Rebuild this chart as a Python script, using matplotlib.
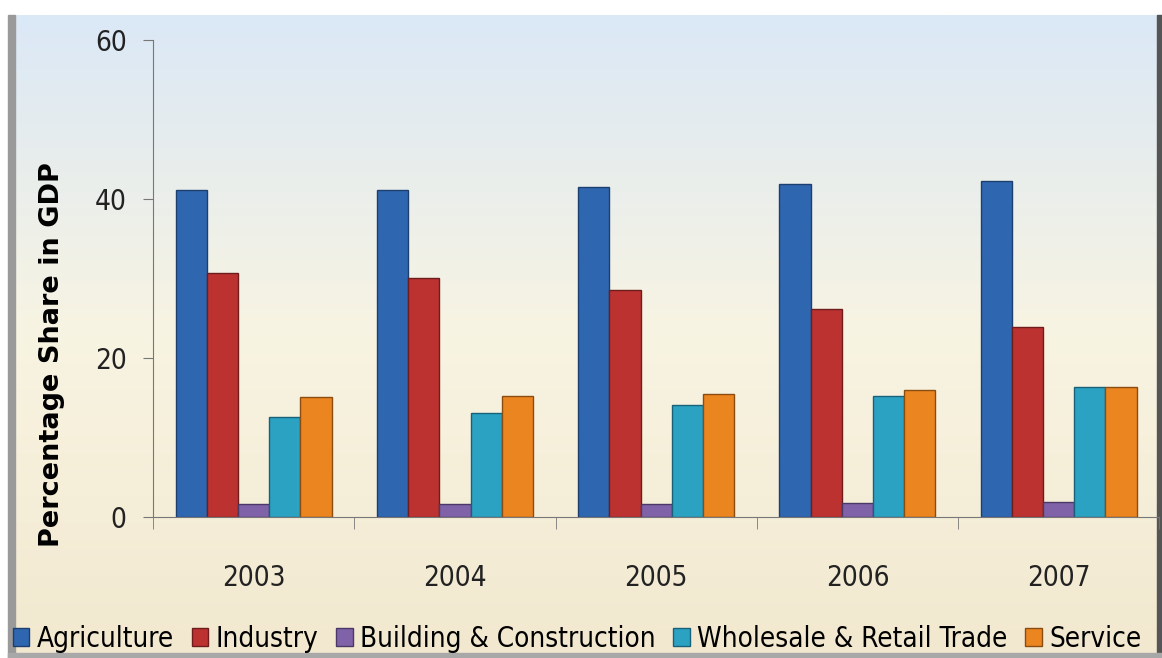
import numpy as np
import matplotlib
matplotlib.use("Agg")
import matplotlib.pyplot as plt
from matplotlib.patches import Rectangle
from matplotlib.colors import LinearSegmentedColormap
from matplotlib import font_manager

years = ["2003", "2004", "2005", "2006", "2007"]
sectors = ["Agriculture", "Industry", "Building & Construction",
           "Wholesale & Retail Trade", "Service"]
agriculture = [41.2, 41.2, 41.5, 41.9, 42.3]
industry = [30.7, 30.1, 28.6, 26.2, 23.9]
building = [1.6, 1.6, 1.6, 1.8, 1.9]
wholesale = [12.6, 13.1, 14.1, 15.2, 16.4]
service = [15.1, 15.2, 15.5, 16.0, 16.4]

values = [agriculture, industry, building, wholesale, service]
colors = ["#2f66b0", "#bb3230", "#8062a8", "#2ba2c2", "#ea851f"]
edges = ["#1d3f70", "#6e1d1c", "#4a3866", "#17617a", "#8a4c10"]

names = set(f.name for f in font_manager.fontManager.ttflist)
narrow = "Liberation Sans Narrow" if "Liberation Sans Narrow" in names else "DejaVu Sans"
stretch = "normal" if narrow == "Liberation Sans Narrow" else "condensed"

fig = plt.figure(figsize=(11.62, 6.58), dpi=100)

# background panel with gradient
bg = fig.add_axes([0, 0, 1, 1], zorder=-10)
bg.set_xlim(0, 1)
bg.set_ylim(0, 1)
bg.axis("off")
cmap = LinearSegmentedColormap.from_list("bg", ["#dbe8f6", "#f8f4e2", "#f2e8cf"])
grad = np.linspace(0, 1, 256).reshape(-1, 1)
bg.imshow(grad, extent=[0.007, 0.999, 0.0, 0.977], aspect="auto", cmap=cmap,
          origin="upper")
bg.add_patch(Rectangle((0.007, 0.0), 0.006, 0.977, color="#9a9a9a"))
bg.add_patch(Rectangle((0.996, 0.0), 0.004, 0.977, color="#555555"))
bg.add_patch(Rectangle((0.007, 0.0), 0.993, 0.008, color="#a8a8a8"))

ax = fig.add_axes([0.1317, 0.2143, 0.866, 0.7247])
ax.patch.set_alpha(0)

x = np.arange(len(years))
w = 0.155
for i, (name, vals) in enumerate(zip(sectors, values)):
    ax.bar(x + (i - 2) * w, vals, w, color=colors[i], edgecolor=edges[i],
           linewidth=1.0, label=name)

ax.set_ylim(0, 60)
ax.set_xlim(-0.5, len(years) - 0.5)
ax.set_yticks([0, 20, 40, 60])
ax.set_xticks(x)
ax.set_xticklabels(years)
ax.set_xticks(np.arange(-0.5, len(years)), minor=True)
ax.tick_params(axis="x", which="major", length=0, pad=34)
ax.tick_params(axis="x", which="minor", length=8.5, color="#777777")
ax.tick_params(axis="y", length=7, color="#777777", pad=12)
for lab in ax.get_xticklabels() + ax.get_yticklabels():
    lab.set_fontfamily(narrow)
    lab.set_fontstretch(stretch)
    lab.set_fontsize(20)
    lab.set_color("#222222")

for s in ["top", "right"]:
    ax.spines[s].set_visible(False)
ax.spines["left"].set_color("#777777")
ax.spines["bottom"].set_color("#777777")

fig.text(52 / 1162, 1 - 355 / 658, "Percentage Share in GDP", rotation=90,
         ha="center", va="center", fontsize=19.5, fontweight="bold",
         family="DejaVu Sans")

fig.legend(loc="lower left", bbox_to_anchor=(0.011, 0.008), ncol=5,
           frameon=False,
           prop={"family": narrow, "stretch": stretch, "size": 20},
           handlelength=0.6, handleheight=0.6, handletextpad=0.25,
           columnspacing=0.65, borderaxespad=0, borderpad=0)

fig.savefig("out.png", dpi=100)
